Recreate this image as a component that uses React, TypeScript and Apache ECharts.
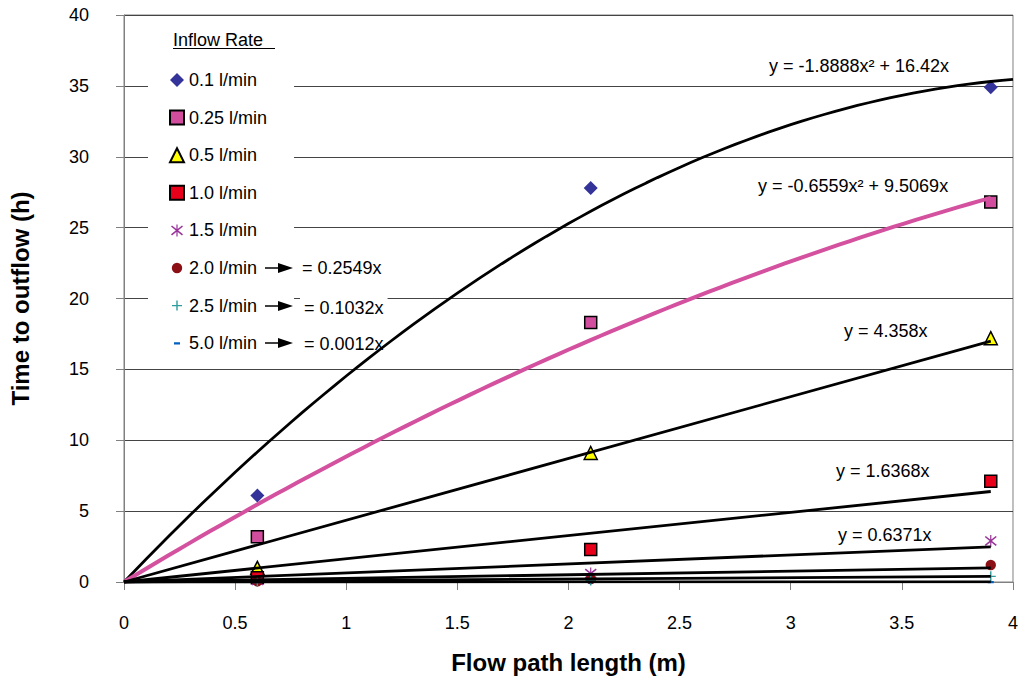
import React, { useEffect, useRef } from "react";
import * as echarts from "echarts";

// ---- data ----
const xPositions = [0.6, 2.1, 3.9];
const rateNames = ["0.1 l/min", "0.25 l/min", "0.5 l/min", "1.0 l/min", "1.5 l/min", "2.0 l/min", "2.5 l/min", "5.0 l/min"];
const rate01 = [6.1, 27.8, 34.9];
const rate025 = [3.2, 18.3, 26.8];
const rate05 = [1.0, 9.1, 17.2];
const rate10 = [0.3, 2.3, 7.1];
const rate15 = [0.1, 0.6, 2.9];
const rate20 = [0.05, 0.2, 1.2];
const rate25 = [0.02, 0.1, 0.4];
const rate50 = [0.0, 0.0, 0.0];

// trendline coefficients as printed on the chart (y = a x^2 + b x, y = k x)
const quadCoefs01 = [-1.8888, 16.42];
const quadCoefs025 = [-0.6559, 9.5069];
const linearSlopes = [4.358, 1.6368, 0.6371, 0.2549, 0.1032, 0.0012];
const trendEnd01 = 4;
const trendEndOthers = 3.9;

const equationLabels = [
  "y = -1.8888x\u00B2 + 16.42x",
  "y = -0.6559x\u00B2 + 9.5069x",
  "y = 4.358x",
  "y = 1.6368x",
  "y = 0.6371x",
  "= 0.2549x",
  "= 0.1032x",
  "= 0.0012x",
];

const FONT = '"Liberation Sans", Arial, sans-serif';

const PAD = "M0 0L0.01 0L0 0.01Z M14 14L13.99 14L14 13.99Z ";
const asteriskPath =
  "path://" + PAD +
  "M6.4 1L7.6 1L7.6 13L6.4 13Z M1 3.2L2 2L13 10.8L12 12Z M13 3.2L2 12L1 10.8L12 2Z";
const plusPath =
  "path://" + PAD +
  "M6.3 2L7.7 2L7.7 6.3L12 6.3L12 7.7L7.7 7.7L7.7 12L6.3 12L6.3 7.7L2 7.7L2 6.3L6.3 6.3Z";
const circlePath = "path://" + PAD + "M7 1.8A5.2 5.2 0 1 1 7 12.2A5.2 5.2 0 1 1 7 1.8Z";
const dashPath = "path://" + PAD + "M4 6L10 6L10 8.3L4 8.3Z";

function quadPoints(coefs: number[], end: number) {
  const pts: number[][] = [];
  const n = 80;
  for (let i = 0; i <= n; i++) {
    const x = (end * i) / n;
    pts.push([x, coefs[0] * x * x + coefs[1] * x]);
  }
  return pts;
}
function linePoints(k: number, end: number) {
  return [
    [0, 0],
    [end, k * end],
  ];
}

export default function App() {
  const ref = useRef<HTMLDivElement>(null);
  useEffect(() => {
    if (!ref.current) return;
    const chart = echarts.init(ref.current, undefined, { renderer: "svg" });

    const pair = (ys: number[]) => xPositions.map((x, i) => [x, ys[i]]);
    const scatterDefs = [
      { name: rateNames[0], data: rate01, symbol: "diamond", size: 14, color: "#333399", border: undefined },
      { name: rateNames[1], data: rate025, symbol: "rect", size: 12, color: "#D24D9E", border: "#000" },
      { name: rateNames[2], data: rate05, symbol: "triangle", size: 13, color: "#FFFF00", border: "#000" },
      { name: rateNames[3], data: rate10, symbol: "rect", size: 12, color: "#E8001A", border: "#000" },
      { name: rateNames[4], data: rate15, symbol: asteriskPath, size: 14, color: "#993399", border: undefined },
      { name: rateNames[5], data: rate20, symbol: circlePath, size: 14, color: "#8B0F14", border: undefined },
      { name: rateNames[6], data: rate25, symbol: plusPath, size: 14, color: "#2E9C9C", border: undefined },
      { name: rateNames[7], data: rate50, symbol: dashPath, size: 14, color: "#0060C0", border: undefined },
    ];

    const scatterSeries = scatterDefs.map((d) => ({
      type: "scatter",
      name: d.name,
      data: pair(d.data),
      symbol: d.symbol,
      symbolSize: d.size,
      z: 2,
      silent: true,
      itemStyle: d.border
        ? { color: d.color, borderColor: d.border, borderWidth: 1.5, opacity: 1 }
        : { color: d.color, borderWidth: 0, opacity: 1 },
    }));

    const trendSeries: any[] = [
      {
        type: "line",
        data: quadPoints(quadCoefs01, trendEnd01),
        showSymbol: false,
        symbol: "none",
        z: 3,
        silent: true,
        lineStyle: { color: "#000", width: 2.8 },
      },
      {
        type: "line",
        data: quadPoints(quadCoefs025, trendEndOthers),
        showSymbol: false,
        symbol: "none",
        z: 3,
        silent: true,
        lineStyle: { color: "#D4519F", width: 4 },
      },
      ...linearSlopes.map((k) => ({
        type: "line",
        data: linePoints(k, trendEndOthers),
        showSymbol: false,
        symbol: "none",
        z: 3,
        silent: true,
        lineStyle: { color: "#000", width: 2.8 },
      })),
    ];

    const labelPos = [
      [765, 66],
      [754, 186],
      [840, 331],
      [832, 471],
      [834, 535],
      [298, 268],
      [300, 308],
      [300, 344],
    ];
    const labelGraphics = equationLabels.map((t, i) => ({
      type: "text",
      x: labelPos[i][0],
      y: labelPos[i][1],
      z: 1,
      style: {
        text: t,
        font: `18px ${FONT}`,
        fill: "#000",
        verticalAlign: "middle",
        align: "left",
        backgroundColor: "#fff",
        padding: [4, 4, 2, 4],
      },
    }));

    const arrowRows = [268, 306, 343];
    const arrowGraphics: any[] = [];
    arrowRows.forEach((y) => {
      arrowGraphics.push({
        type: "line",
        z: 10,
        shape: { x1: 265, y1: y, x2: 281, y2: y },
        style: { stroke: "#000", lineWidth: 1.5 },
      });
      arrowGraphics.push({
        type: "polygon",
        z: 10,
        shape: { points: [[278, y - 5], [293, y], [278, y + 5]] },
        style: { fill: "#000" },
      });
    });

    chart.setOption({
      animation: false,
      backgroundColor: "#fff",
      grid: {
        left: 123,
        right: 6,
        top: 15,
        bottom: 102,
        show: true,
        borderColor: "#808080",
        borderWidth: 1,
        backgroundColor: "transparent",
      },
      xAxis: {
        type: "value",
        min: 0,
        max: 4,
        interval: 0.5,
        name: "Flow path length (m)",
        nameLocation: "middle",
        nameGap: 68,
        nameTextStyle: { fontSize: 24, fontWeight: "bold", fontFamily: FONT, color: "#000" },
        axisLine: { show: true, onZero: false, lineStyle: { color: "#808080", width: 1 } },
        axisTick: { show: true, length: 8, lineStyle: { color: "#808080" } },
        axisLabel: { fontSize: 18, fontFamily: FONT, color: "#000", margin: 32 },
        splitLine: { show: false },
      },
      yAxis: {
        type: "value",
        min: 0,
        max: 40,
        interval: 5,
        name: "Time to outflow (h)",
        nameLocation: "middle",
        nameGap: 92,
        nameTextStyle: { fontSize: 24, fontWeight: "bold", fontFamily: FONT, color: "#000" },
        axisLine: { show: true, lineStyle: { color: "#808080", width: 1 } },
        axisTick: { show: true, length: 8, lineStyle: { color: "#808080" } },
        axisLabel: { fontSize: 18, fontFamily: FONT, color: "#000", margin: 35 },
        splitLine: { show: true, lineStyle: { color: "#444", width: 1 } },
      },
      legend: {
        orient: "vertical",
        left: 148,
        top: 61,
        data: rateNames,
        itemWidth: 14,
        itemHeight: 14,
        itemGap: 19.6,
        itemTextGap: 4,
        selectedMode: false,
        backgroundColor: "#fff",
        padding: [10, 27, 10, 21],
        textStyle: { fontSize: 18, fontFamily: FONT, color: "#000", lineHeight: 18 },
      },
      graphic: [
        {
          type: "text",
          x: 173,
          y: 40,
          z: 10,
          style: {
            text: "Inflow Rate",
            font: `18px ${FONT}`,
            fill: "#000",
            verticalAlign: "middle",
            align: "left",
          },
        },
        {
          type: "line",
          z: 10,
          shape: { x1: 173, y1: 48.5, x2: 275, y2: 48.5 },
          style: { stroke: "#000", lineWidth: 1.2 },
        },
        ...labelGraphics,
        ...arrowGraphics,
      ],
      series: [...scatterSeries, ...trendSeries],
    } as any);

    return () => chart.dispose();
  }, []);

  return (
    <div
      ref={ref}
      style={{ position: "fixed", left: 0, top: 0, width: 1021, height: 684, background: "#fff" }}
    />
  );
}
